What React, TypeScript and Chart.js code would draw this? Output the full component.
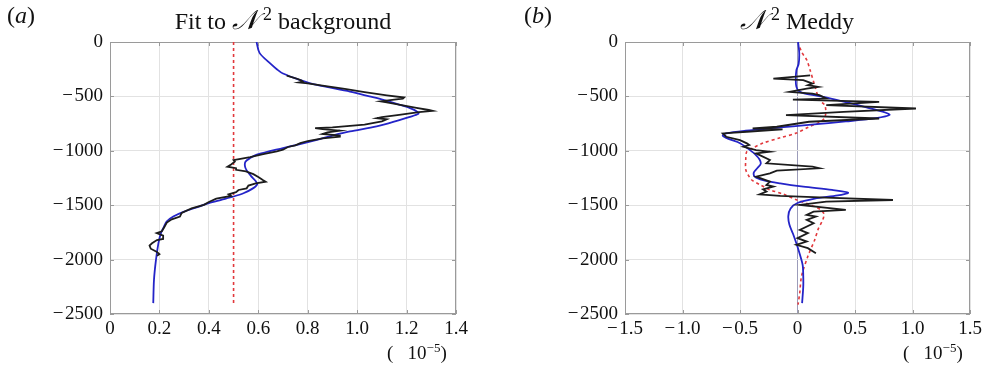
import React, { useEffect, useRef } from 'react';
import { Chart, registerables } from 'chart.js';

Chart.register(...registerables);

const SERIF = "'Liberation Serif', 'Times New Roman', Times, serif";

// ---- panel (a): background stratification ----
const bgFitDepth = [0, -100, -195, -250, -290, -350, -395, -456, -500, -532, -575, -608, -640, -660, -690, -715, -776, -822, -860, -899, -940, -975, -1036, -1067, -1100, -1140, -1180, -1230, -1280, -1310, -1350, -1390, -1420, -1450, -1480, -1513, -1559, -1604, -1650, -1700, -1750, -1849, -2002, -2185, -2400];
const bgFitN2 = [0.593, 0.605, 0.647, 0.675, 0.7, 0.77, 0.837, 0.971, 1.05, 1.106, 1.17, 1.214, 1.243, 1.248, 1.21, 1.174, 1.079, 0.971, 0.9, 0.837, 0.765, 0.7, 0.594, 0.567, 0.548, 0.546, 0.553, 0.57, 0.59, 0.595, 0.575, 0.54, 0.5, 0.45, 0.4, 0.36, 0.3, 0.256, 0.229, 0.218, 0.207, 0.196, 0.186, 0.178, 0.175];

const bgObsDepth = [-310, -340, -355, -365, -372, -380, -400, -430, -460, -490, -510, -520, -530, -545, -555, -580, -605, -625, -633, -645, -670, -690, -700, -710, -730, -760, -785, -792, -800, -815, -830, -845, -860, -870, -885, -910, -929, -950, -965, -990, -1005, -1030, -1058, -1085, -1100, -1125, -1146, -1160, -1175, -1190, -1215, -1240, -1270, -1284, -1300, -1320, -1345, -1360, -1380, -1400, -1415, -1440, -1470, -1497, -1530, -1570, -1604, -1630, -1660, -1700, -1740, -1757, -1780, -1810, -1820, -1850, -1870, -1900, -1930, -1950, -1965];
const bgObsN2 = [0.715, 0.76, 0.775, 0.78, 0.765, 0.8, 0.86, 0.95, 1.03, 1.12, 1.19, 1.185, 1.15, 1.095, 1.12, 1.18, 1.24, 1.29, 1.305, 1.25, 1.17, 1.1, 1.08, 1.12, 1.1, 1.03, 0.9, 0.83, 0.86, 0.93, 0.88, 0.86, 0.93, 0.93, 0.86, 0.8, 0.77, 0.75, 0.72, 0.7, 0.675, 0.62, 0.567, 0.5, 0.505, 0.49, 0.475, 0.51, 0.51, 0.55, 0.58, 0.6, 0.62, 0.63, 0.59, 0.56, 0.553, 0.52, 0.51, 0.48, 0.49, 0.43, 0.4, 0.38, 0.33, 0.29, 0.283, 0.25, 0.23, 0.22, 0.21, 0.189, 0.215, 0.215, 0.19, 0.17, 0.16, 0.165, 0.19, 0.2, 0.19];

const bgRefDepth = [0, -2400];
const bgRefN2 = [0.5, 0.5];

// ---- panel (b): meddy anomaly ----
const meddyFitDepth = [0, -100, -200, -260, -350, -410, -450, -470, -500, -530, -560, -600, -640, -670, -700, -730, -760, -790, -815, -840, -860, -890, -930, -980, -1030, -1080, -1120, -1160, -1200, -1240, -1270, -1300, -1330, -1360, -1385, -1410, -1440, -1480, -1530, -1600, -1680, -1760, -1850, -1950, -2050, -2150, -2250, -2400];
const meddyFitN2 = [0.005, 0.015, 0.01, -0.01, -0.015, -0.01, 0.01, 0.05, 0.2, 0.33, 0.45, 0.6, 0.74, 0.8, 0.68, 0.42, 0.12, -0.2, -0.45, -0.62, -0.65, -0.6, -0.5, -0.43, -0.37, -0.33, -0.32, -0.35, -0.38, -0.37, -0.3, -0.15, 0.05, 0.3, 0.44, 0.35, 0.15, 0.0, -0.06, -0.08, -0.07, -0.04, -0.01, 0.02, 0.045, 0.05, 0.05, 0.04];

const meddySmoothDepth = [-50, -100, -165, -260, -400, -532, -587, -690, -734, -780, -837, -880, -929, -970, -1005, -1082, -1174, -1220, -1266, -1310, -1358, -1400, -1450, -1500, -1541, -1580, -1633, -1720, -1817, -1970, -2153, -2300, -2413];
const meddySmoothN2 = [0.02, 0.04, 0.08, 0.11, 0.15, 0.19, 0.24, 0.24, 0.2, 0.1, -0.01, -0.15, -0.3, -0.38, -0.44, -0.45, -0.45, -0.43, -0.4, -0.33, -0.24, -0.12, -0.01, 0.12, 0.2, 0.23, 0.22, 0.18, 0.15, 0.09, 0.035, 0.02, 0.005];

const meddyObsDepth = [-306, -336, -351, -382, -397, -413, -428, -458, -474, -489, -520, -529, -550, -581, -611, -642, -672, -703, -733, -779, -795, -804, -825, -840, -871, -902, -932, -947, -963, -993, -1008, -1024, -1085, -1115, -1146, -1161, -1183, -1207, -1238, -1284, -1314, -1329, -1354, -1375, -1400, -1415, -1430, -1452, -1467, -1497, -1543, -1559, -1589, -1604, -1635, -1666, -1727, -1757, -1803, -1834, -1864, -1895, -1941];
const meddyObsN2 = [0.11, -0.21, 0.05, 0.13, 0.09, 0.18, 0.08, -0.07, 0.13, 0.19, 0.25, -0.04, 0.71, 0.25, 1.03, 0.4, -0.1, 0.71, 0.1, -0.18, -0.39, -0.13, -0.44, -0.65, -0.62, -0.5, -0.44, -0.42, -0.47, -0.36, -0.24, -0.36, -0.24, -0.27, 0.13, 0.19, -0.18, -0.24, -0.36, -0.24, -0.27, -0.21, -0.3, -0.27, -0.33, -0.15, 0.25, 0.83, 0.25, 0.02, 0.42, 0.14, 0.08, 0.16, 0.08, 0.14, 0.02, 0.09, 0.0, 0.08, -0.01, 0.09, 0.16];

// axis ticks
const depthTicks = [0, -500, -1000, -1500, -2000, -2500];
const bgTicks = [0, 0.2, 0.4, 0.6, 0.8, 1.0, 1.2, 1.4];
const meddyTicks = [-1.5, -1.0, -0.5, 0, 0.5, 1.0, 1.5];

const BLUE = '#2424c8';
const RED = '#e2383c';
const BLACK = '#1c1c1c';
const GRID = '#e2e2e2';
const FRAME = '#9a9a9a';

const pts = (xs: number[], ys: number[]) => xs.map((x, i) => ({ x, y: ys[i] }));

const fmt = (v: number, decimals: number, gap: string) => {
  if (v === 0) return '0';
  const s = Math.abs(v).toFixed(decimals);
  return v < 0 ? '\u2212' + gap + s : s;
};

// full box around the plotting area with short inward ticks
const framePlugin = {
  id: 'frame',
  beforeDatasetsDraw(chart: any) {
    const { ctx, chartArea: a, scales } = chart;
    ctx.save();
    ctx.strokeStyle = FRAME;
    ctx.lineWidth = 1;
    ctx.strokeRect(a.left + 0.5, a.top + 0.5, a.right - a.left - 1, a.bottom - a.top - 1);
    ctx.beginPath();
    scales.x.ticks.forEach((t: any) => {
      const px = Math.round(scales.x.getPixelForValue(t.value)) + 0.5;
      ctx.moveTo(px, a.bottom);
      ctx.lineTo(px, a.bottom - 4);
      ctx.moveTo(px, a.top);
      ctx.lineTo(px, a.top + 4);
    });
    scales.y.ticks.forEach((t: any) => {
      const py = Math.round(scales.y.getPixelForValue(t.value)) + 0.5;
      ctx.moveTo(a.left, py);
      ctx.lineTo(a.left + 4, py);
      ctx.moveTo(a.right, py);
      ctx.lineTo(a.right - 4, py);
    });
    ctx.stroke();
    ctx.restore();
  },
};

type PanelProps = {
  datasets: any[];
  xMin: number;
  xMax: number;
  xTicks: number[];
  padLeft: number;
  padRight: number;
  zeroLine: boolean;
};

function Panel({ datasets, xMin, xMax, xTicks, padLeft, padRight, zeroLine }: PanelProps) {
  const ref = useRef<HTMLCanvasElement | null>(null);
  useEffect(() => {
    if (!ref.current) return;
    const tickFont = { family: SERIF, size: 19 };
    const chart = new Chart(ref.current, {
      type: 'scatter',
      data: { datasets },
      options: {
        animation: false,
        responsive: false,
        maintainAspectRatio: false,
        layout: { padding: { left: padLeft, right: padRight, top: 42, bottom: 27 } },
        plugins: { legend: { display: false }, tooltip: { enabled: false }, title: { display: false } },
        elements: { point: { radius: 0 } },
        scales: {
          x: {
            type: 'linear',
            min: xMin,
            max: xMax,
            afterBuildTicks: (s: any) => {
              s.ticks = xTicks.map((value) => ({ value }));
            },
            afterFit: (s: any) => {
              s.height = 30;
            },
            ticks: {
              font: tickFont,
              color: '#111',
              padding: 4,
              maxRotation: 0,
              autoSkip: false,
              callback: (v: any) => fmt(Number(v), 1, '\u200a'),
            },
            grid: {
              drawTicks: false,
              color: (c: any) => (zeroLine && c.tick && c.tick.value === 0 ? '#9c9cba' : GRID),
            },
            border: { display: false },
          },
          y: {
            type: 'linear',
            min: -2500,
            max: 0,
            afterBuildTicks: (s: any) => {
              s.ticks = depthTicks.map((value) => ({ value }));
            },
            afterFit: (s: any) => {
              s.width = 70;
            },
            ticks: {
              font: tickFont,
              color: '#111',
              padding: 7,
              autoSkip: false,
              callback: (v: any) => fmt(Number(v), 0, '\u200a'),
            },
            grid: { drawTicks: false, color: GRID },
            border: { display: false },
          },
        },
      },
      plugins: [framePlugin],
    } as any);
    return () => chart.destroy();
  }, []);
  return <canvas ref={ref} width={493} height={371} style={{ display: 'block', width: 493, height: 371 }} />;
}

const lineSet = (data: { x: number; y: number }[], color: string, extra: any = {}) => ({
  data,
  showLine: true,
  borderColor: color,
  backgroundColor: color,
  borderWidth: 1.8,
  pointRadius: 0,
  fill: false,
  ...extra,
});

const textBase: React.CSSProperties = {
  position: 'absolute',
  fontFamily: SERIF,
  color: '#111',
  whiteSpace: 'nowrap',
  lineHeight: 1,
};

const scriptN: React.CSSProperties = { fontStyle: 'italic', fontSize: 27 };
const sup2: React.CSSProperties = { fontSize: 18, position: 'relative', top: -9, marginLeft: 5 };

function UnitLabel({ left }: { left: number }) {
  return (
    <div style={{ ...textBase, left, top: 343, fontSize: 19 }}>
      (&nbsp;&nbsp;&nbsp;10<span style={{ fontSize: 13, position: 'relative', top: -7 }}>{'\u22125'}</span>)
    </div>
  );
}

export default function App() {
  const panelA = [
    lineSet(pts(bgObsN2, bgObsDepth), BLACK, { tension: 0 }),
    lineSet(pts(bgFitN2, bgFitDepth), BLUE, { tension: 0.3 }),
    lineSet(pts(bgRefN2, bgRefDepth), RED, { borderDash: [3, 3], borderWidth: 1.6 }),
  ];
  const panelB = [
    lineSet(pts(meddyObsN2, meddyObsDepth), BLACK, { tension: 0 }),
    lineSet(pts(meddyFitN2, meddyFitDepth), BLUE, { tension: 0.3 }),
    lineSet(pts(meddySmoothN2, meddySmoothDepth), RED, { borderDash: [3, 3], borderWidth: 1.6, tension: 0.3 }),
  ];
  return (
    <div style={{ position: 'absolute', left: 0, top: 0, width: 986, height: 371, background: '#fff', overflow: 'hidden' }}>
      <div style={{ position: 'absolute', left: 0, top: 0 }}>
        <Panel datasets={panelA} xMin={0} xMax={1.4} xTicks={bgTicks} padLeft={40} padRight={37} zeroLine={false} />
      </div>
      <div style={{ position: 'absolute', left: 493, top: 0 }}>
        <Panel datasets={panelB} xMin={-1.5} xMax={1.5} xTicks={meddyTicks} padLeft={62} padRight={16} zeroLine={true} />
      </div>

      <div style={{ ...textBase, left: 7, top: 3, fontSize: 24 }}>
        (<i>a</i>)
      </div>
      <div style={{ ...textBase, left: 524, top: 3, fontSize: 24 }}>
        (<i>b</i>)
      </div>

      <div style={{ ...textBase, left: 283, top: 7, fontSize: 24, transform: 'translateX(-50%)' }}>
        Fit to <span style={scriptN}>{'\u{1D4A9}'}</span>
        <span style={sup2}>2</span> background
      </div>
      <div style={{ ...textBase, left: 797, top: 7, fontSize: 24, transform: 'translateX(-50%)' }}>
        <span style={scriptN}>{'\u{1D4A9}'}</span>
        <span style={sup2}>2</span> Meddy
      </div>

      <UnitLabel left={387} />
      <UnitLabel left={903} />
    </div>
  );
}
